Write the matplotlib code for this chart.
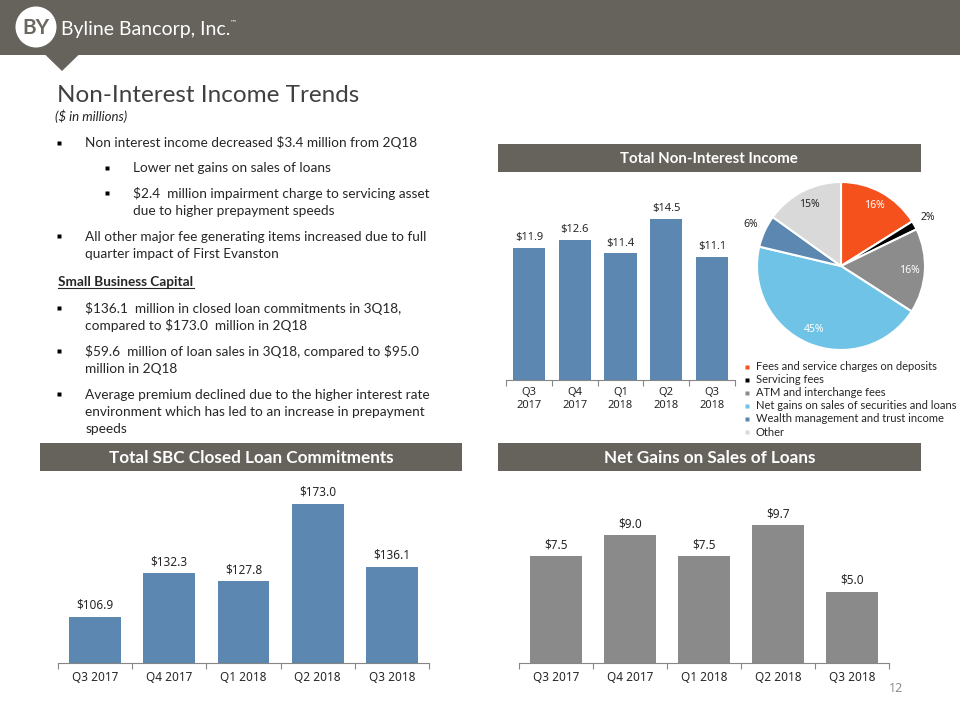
import math
import matplotlib
matplotlib.use("Agg")
import matplotlib.pyplot as plt
from matplotlib.patches import Rectangle, Circle, Polygon

plt.rcParams["text.parse_math"] = False

# ---------------- data ----------------
quarters_two_line = ["Q3\n2017", "Q4\n2017", "Q1\n2018", "Q2\n2018", "Q3\n2018"]
quarters = ["Q3 2017", "Q4 2017", "Q1 2018", "Q2 2018", "Q3 2018"]
nonint_income = [11.9, 12.6, 11.4, 14.5, 11.1]
sbc_commitments = [106.9, 132.3, 127.8, 173.0, 136.1]
net_gains = [7.5, 9.0, 7.5, 9.7, 5.0]

pie_labels = ["Fees and service charges on deposits", "Servicing fees",
              "ATM and interchange fees", "Net gains on sales of securities and loans",
              "Wealth management and trust income", "Other"]
pie_values = [16.1, 1.7, 16.3, 44.6, 6.2, 15.1]
pie_colors = ["#F5511C", "#000000", "#8C8C8C", "#6FC3E6", "#5B87B1", "#D9D9D9"]

bullets = [
    (0, ["Non interest income decreased $3.4 million from 2Q18"]),
    (1, ["Lower net gains on sales of loans"]),
    (1, ["$2.4  million impairment charge to servicing asset",
         "due to higher prepayment speeds"]),
    (0, ["All other major fee generating items increased due to full",
         "quarter impact of First Evanston"]),
]
sbc_bullets = [
    ["$136.1  million in closed loan commitments in 3Q18,",
     "compared to $173.0  million in 2Q18"],
    ["$59.6  million of loan sales in 3Q18, compared to $95.0",
     "million in 2Q18"],
    ["Average premium declined due to the higher interest rate",
     "environment which has led to an increase in prepayment",
     "speeds"],
]

# ---------------- style ----------------
W, H = 960, 720
HDR = "#66625C"
TXT = "#262626"
BODY = "Lato"
CHART = "Noto Sans"

fig = plt.figure(figsize=(9.6, 7.2), dpi=100)
bg = fig.add_axes([0, 0, 1, 1])
bg.set_xlim(0, W)
bg.set_ylim(H, 0)
bg.axis("off")

# header bar + pointer
bg.add_patch(Rectangle((0, 0), W, 55, color=HDR, lw=0))
bg.add_patch(Polygon([[45, 54.5], [79, 54.5], [62, 71]], closed=True, color=HDR, lw=0))
bg.add_patch(Circle((36, 27), 20.5, color="white", lw=0))
bg.text(36, 28, "BY", ha="center", va="center", fontsize=15, color="#6B6761",
        family=BODY, fontweight="bold")
bg.text(61, 35, "Byline Bancorp, Inc.", ha="left", va="baseline", fontsize=14,
        color="white", family=BODY)
bg.text(230, 24, "™", ha="left", va="baseline", fontsize=5, color="white", family="DejaVu Sans")

# title
bg.text(57, 102, "Non-Interest Income Trends", ha="left", va="baseline",
        fontsize=17.5, color="#404040", family=BODY)
bg.text(55, 121, "($ in millions)", ha="left", va="baseline", fontsize=9.5,
        color=TXT, family=BODY, style="italic")

# bullet text
FS = 9.8
line_h = 17.5
y = 147.3
gaps = [25, 25.5, 25.5]
for i, (lvl, lines) in enumerate(bullets):
    mx = 58.7 if lvl == 0 else 106.7
    tx = 85.3 if lvl == 0 else 133.3
    bg.plot([mx], [y - 4.5], marker="s", ms=3, color="black", mec="none")
    for j, ln in enumerate(lines):
        bg.text(tx, y + j * line_h, ln, ha="left", va="baseline", fontsize=FS,
                color=TXT, family=BODY)
    if i < len(gaps):
        y += (len(lines) - 1) * line_h + gaps[i]

bg.text(58, 285.7, "Small Business Capital", ha="left", va="baseline", fontsize=FS,
        color=TXT, family=BODY, fontweight="bold")
bg.plot([58, 194], [288, 288], color=TXT, lw=0.8)

y = 312.7
for lines in sbc_bullets:
    bg.plot([58.7], [y - 4.5], marker="s", ms=3, color="black", mec="none")
    for j, ln in enumerate(lines):
        bg.text(85.3, y + j * 17, ln, ha="left", va="baseline", fontsize=FS,
                color=TXT, family=BODY)
    y += (len(lines) - 1) * 17 + 26

# section headers
def header(x0, x1, y0, y1, label, fs):
    bg.add_patch(Rectangle((x0, y0), x1 - x0, y1 - y0, color=HDR, lw=0))
    bg.text((x0 + x1) / 2, (y0 + y1) / 2 + 1, label, ha="center", va="center",
            fontsize=fs, color="white", family=BODY, fontweight="bold")

header(497.7, 920.7, 144, 172, "Total Non-Interest Income", 10.8)
header(40, 461.7, 443, 471, "Total SBC Closed Loan Commitments", 12.3)
header(498, 920.7, 443, 471, "Net Gains on Sales of Loans", 12.3)

# page number
bg.text(896, 688, "12", ha="center", va="center", fontsize=9, color="#8C8C8C", family=CHART)


def fpos(x0, x1, ytop, ybot):
    return [x0 / W, 1 - ybot / H, (x1 - x0) / W, (ybot - ytop) / H]


def bar_chart(rect, labels, values, color, ylim, fsize, label_fmt, lbl_pad):
    ax = fig.add_axes(rect)
    x = list(range(len(values)))
    bars = ax.bar(x, values, width=0.7, color=color, zorder=2)
    ax.set_xlim(-0.5, len(values) - 0.5)
    ax.set_ylim(*ylim)
    for s in ["top", "right", "left"]:
        ax.spines[s].set_visible(False)
    ax.spines["bottom"].set_color("#868686")
    ax.spines["bottom"].set_linewidth(0.8)
    ax.set_yticks([])
    ax.set_xticks(x)
    ax.set_xticklabels(labels, fontsize=fsize, family=CHART, color=TXT)
    ax.tick_params(axis="x", which="major", length=0, pad=lbl_pad)
    ax.set_xticks([i - 0.5 for i in range(len(values) + 1)], minor=True)
    ax.tick_params(axis="x", which="minor", length=4.5, color="#868686", width=0.8)
    ax.patch.set_alpha(0)
    for b, v in zip(bars, values):
        ax.annotate(label_fmt.format(v), (b.get_x() + b.get_width() / 2, v),
                    xytext=(0, 3.5), textcoords="offset points", ha="center",
                    va="bottom", fontsize=fsize, family=CHART, color=TXT)
    return ax


bar_chart(fpos(506, 735, 202.4, 380), quarters_two_line, nonint_income, "#5B87B1",
          (0, 16), 8, "${:.1f}", 5)
bar_chart(fpos(58, 429, 487, 662.7), quarters, sbc_commitments, "#5B87B1",
          (80, 182.7), 8.5, "${:.1f}", 6)
bar_chart(fpos(519.3, 888.7, 492.3, 662.7), quarters, net_gains, "#8A8A8A",
          (0, 12), 8.5, "${:.1f}", 6)

# pie
cx, cy, r = 841, 266, 84
pax = fig.add_axes(fpos(cx - r, cx + r, cy - r, cy + r))
wedges, texts, autotexts = pax.pie(
    pie_values, colors=pie_colors, startangle=90, counterclock=False,
    autopct="%.0f%%", pctdistance=0.82,
    wedgeprops=dict(edgecolor="white", linewidth=1.5),
    textprops=dict(fontsize=7.5, family=CHART, fontweight="bold"))
pax.set_xlim(-1, 1)
pax.set_ylim(-1, 1)
pax.set_aspect("equal")
inside_color = ["white", None, "white", "white", None, "#262626"]
for w, t, c in zip(wedges, autotexts, inside_color):
    if c is None:
        ang = math.radians((w.theta1 + w.theta2) / 2)
        t.set_position((1.18 * math.cos(ang), 1.18 * math.sin(ang)))
        t.set_color("#262626")
    else:
        t.set_color(c)

# pie legend
for i, (lab, col) in enumerate(zip(pie_labels, pie_colors)):
    yy = 366.5 + i * 13.1
    bg.plot([746.7], [yy], marker="s", ms=3.3, color=col, mec="none")
    bg.text(755.5, yy, lab, ha="left", va="center", fontsize=8, color=TXT, family=BODY)

fig.savefig("out.png", dpi=100)
